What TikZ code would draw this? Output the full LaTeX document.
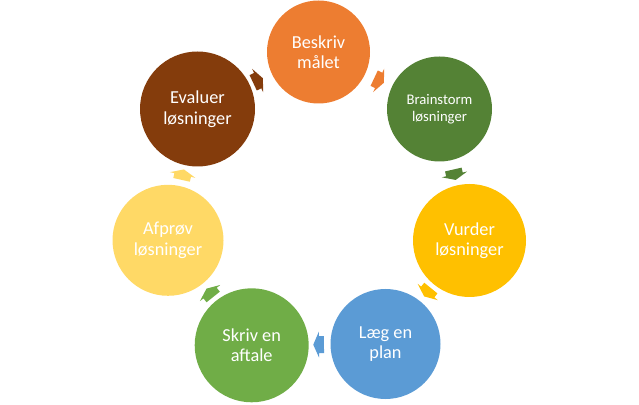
\documentclass[tikz,border=0pt]{standalone}
\usepackage{fontspec}
\setmainfont{Carlito}
\usetikzlibrary{calc}
\definecolor{cOrange}{HTML}{ED7D31}
\definecolor{cDkGreen}{HTML}{548235}
\definecolor{cGold}{HTML}{FFC000}
\definecolor{cBlue}{HTML}{5B9BD5}
\definecolor{cGreen}{HTML}{70AD47}
\definecolor{cLtYellow}{HTML}{FFD966}
\definecolor{cBrown}{HTML}{843C0C}
\tikzset{
  stage/.style={circle, inner sep=0pt, text=white, align=center,
    font=\fontsize{18.3}{20.5}\selectfont},
  smalltext/.style={font=\fontsize{14.7}{17.3}\selectfont},
}
\newcommand\cyclearrow[3]{%
  \path[fill=#3] let \p1=($(#2.center)-(#1.center)$), \n1={atan2(\y1,\x1)},
    \p2=($(#1.center)!0.5!(#2.center)$) in
    ($(\p2)+(\n1+180:5.35pt)+(\n1+90:8.5pt)$) --
    ($(\p2)+(\n1+180:0.35pt)+(\n1+90:8.5pt)$) --
    ($(\p2)+(\n1+180:0.35pt)+(\n1+90:13pt)$) --
    ($(\p2)+(\n1:5.35pt)$) --
    ($(\p2)+(\n1+180:0.35pt)+(\n1-90:13pt)$) --
    ($(\p2)+(\n1+180:0.35pt)+(\n1-90:8.5pt)$) --
    ($(\p2)+(\n1+180:5.35pt)+(\n1-90:8.5pt)$) -- cycle;}
\begin{document}
\begin{tikzpicture}[x=1pt,y=1pt]
\useasboundingbox (0,0) rectangle (639,404);
\node[stage, fill=cOrange,   minimum size=103pt] (b1) at (318.5,352)   {Beskriv\\målet};
\node[stage, smalltext, fill=cDkGreen, minimum size=105pt] (b2) at (439.5,295) {Brainstorm\\løsninger};
\node[stage, fill=cGold,     minimum size=113pt] (b3) at (469.5,163.5) {Vurder\\løsninger};
\node[stage, fill=cBlue,     minimum size=110pt] (b4) at (385.5,60)    {Læg en\\plan};
\node[stage, fill=cGreen,    minimum size=114pt] (b5) at (251.7,58.7)  {Skriv en\\aftale};
\node[stage, fill=cLtYellow, minimum size=111pt] (b6) at (168,163.7)   {Afprøv\\løsninger};
\node[stage, fill=cBrown,    minimum size=115pt] (b7) at (197.5,295)   {Evaluer\\løsninger};
\cyclearrow{b1}{b2}{cOrange}
\cyclearrow{b2}{b3}{cDkGreen}
\cyclearrow{b3}{b4}{cGold}
\cyclearrow{b4}{b5}{cBlue}
\cyclearrow{b5}{b6}{cGreen}
\cyclearrow{b6}{b7}{cLtYellow}
\cyclearrow{b7}{b1}{cBrown}
\end{tikzpicture}
\end{document}
